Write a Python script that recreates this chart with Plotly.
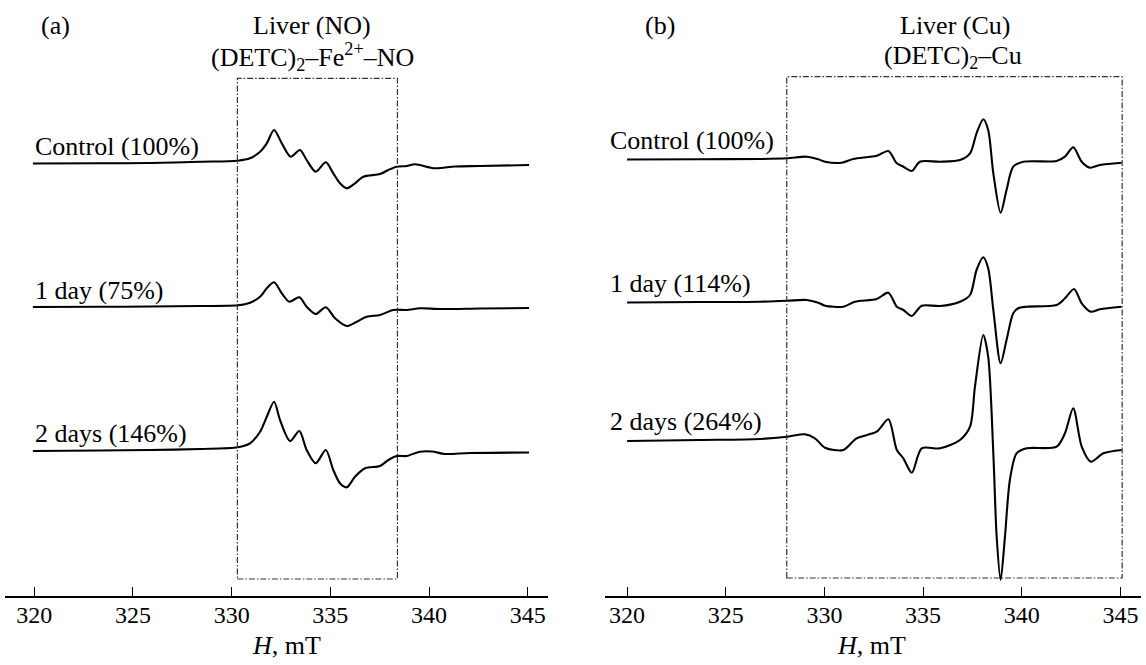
import plotly.graph_objects as go

# ---------------- data (field in mT, signal in arbitrary units) ----------------
# Panel (a): Liver (NO), (DETC)2-Fe2+-NO
field_a_control = [319.93, 323.33, 325.87, 328.41, 330.31, 330.93, 331.44, 331.78, 332.15, 332.54,
                   332.99, 333.46, 333.80, 334.26, 334.77, 335.15, 335.49, 335.83, 336.25, 336.67,
                   337.52, 337.94, 338.36, 338.87, 339.29, 340.30, 341.32, 342.58, 345.07]
sig_a_control = [0.0, 0.2, 0.5, 1.8, 2.8, 5.2, 11.8, 20.2, 33.5, 20.2,
                 6.8, 13.5, 3.5, -8.2, 1.2, -9.8, -19.8, -24.8, -19.8, -13.2,
                 -10.5, -6.5, -3.2, -2.5, -0.8, -4.8, -3.0, -2.5, -1.5]

field_a_1day = [319.93, 323.33, 325.87, 328.41, 330.31, 330.93, 331.44, 331.78, 332.15, 332.54,
                332.92, 333.43, 333.80, 334.26, 334.77, 335.24, 335.83, 336.34, 336.84, 337.52,
                338.19, 338.87, 339.54, 340.56, 342.58, 345.07]
sig_a_1day = [-0.5, -0.3, 0.0, 0.5, 1.2, 3.8, 9.8, 18.2, 24.2, 13.2,
              4.8, 9.2, -0.2, -7.5, -0.8, -11.8, -19.5, -15.2, -10.2, -8.5,
              -3.5, -3.5, -1.8, -2.5, -2.0, -1.5]

field_a_2days = [319.93, 323.33, 325.87, 328.41, 330.31, 330.93, 331.44, 331.78, 332.15, 332.45,
                 332.96, 333.43, 333.80, 334.26, 334.77, 335.15, 335.49, 335.83, 336.25, 336.76,
                 337.52, 337.94, 338.36, 338.87, 339.54, 340.15, 340.81, 342.07, 345.07]
sig_a_2days = [-1.0, -0.5, 0.0, 1.0, 2.7, 6.7, 18.3, 33.3, 48.3, 30.0,
               9.0, 19.0, 0.0, -13.3, 0.0, -20.0, -33.3, -37.3, -26.7, -18.3,
               -16.0, -10.0, -6.0, -6.0, -1.7, -1.5, -4.0, -3.0, -2.5]

# Panel (b): Liver (Cu), (DETC)2-Cu
field_b_control = [320.00, 323.69, 326.73, 328.12, 329.10, 329.69, 330.03, 330.87, 331.46, 332.65,
                   333.24, 333.67, 334.00, 334.43, 334.84, 335.86, 336.87, 337.38, 337.71, 338.05,
                   338.30, 338.56, 338.93, 339.23, 339.57, 340.08, 341.77, 342.19, 342.61, 343.04,
                   343.46, 343.96, 345.06]
sig_b_control = [-0.5, -0.2, 0.0, 0.7, 2.3, -0.3, -2.7, -3.7, 0.0, 3.3,
                 8.0, -4.3, -7.7, -12.0, -2.7, -2.7, -1.0, 5.7, 25.7, 39.7,
                 29.0, -14.3, -53.7, -31.0, -7.7, -2.7, -2.0, 2.3, 11.7, -2.7,
                 -8.7, -6.0, -3.7]

field_b_1day = [320.00, 323.69, 326.73, 328.12, 329.10, 329.69, 330.03, 330.96, 331.55, 332.65,
                333.24, 333.67, 334.00, 334.43, 334.93, 335.86, 336.87, 337.38, 337.71, 338.05,
                338.30, 338.56, 338.93, 339.23, 339.57, 339.82, 340.25, 341.77, 342.19, 342.65,
                343.04, 343.50, 343.96, 345.06]
sig_b_1day = [-1.0, -0.5, -0.2, 0.8, 1.5, -1.2, -4.2, -5.2, -0.2, 2.5,
              8.8, -5.2, -8.5, -14.5, -4.2, -4.5, -0.2, 6.5, 31.5, 44.2,
              33.2, -8.5, -61.8, -38.5, -11.8, -6.8, -5.2, -3.5, 3.2, 12.5,
              -1.8, -10.2, -7.8, -5.2]

field_b_2days = [320.00, 323.69, 326.73, 328.12, 329.01, 329.52, 330.03, 330.96, 331.63, 332.65,
                 333.24, 333.67, 334.00, 334.43, 334.93, 335.86, 336.87, 337.38, 337.63, 338.05,
                 338.30, 338.56, 338.73, 338.93, 339.15, 339.40, 339.74, 340.25, 341.77, 342.19,
                 342.61, 343.04, 343.50, 344.14, 345.06]
sig_b_2days = [-2.0, -1.0, 0.0, 2.3, 4.7, 0.7, -8.7, -11.0, 0.7, 7.3,
               19.7, -11.0, -19.3, -33.7, -9.3, -9.3, -1.0, 12.3, 52.3, 104.0,
               82.3, -14.3, -97.7, -141.0, -97.7, -41.0, -14.3, -9.3, -7.7, 5.7,
               30.7, -7.7, -22.7, -14.3, -11.0]

labels_a = ["Control (100%)", "1 day (75%)", "2 days (146%)"]
labels_b = ["Control (100%)", "1 day (114%)", "2 days (264%)"]
tick_vals = [320, 325, 330, 335, 340, 345]

# ---------------- layout constants ----------------
FONT = "Liberation Serif, Times New Roman, serif"
base_a = [432.5, 289.5, 146.0]
base_b = [437.0, 294.5, 157.0]
label_y_a = [449.3, 306.0, 163.0]
label_y_b = [456.0, 313.0, 175.0]

fig = go.Figure()
spectra_a = [(field_a_control, sig_a_control), (field_a_1day, sig_a_1day), (field_a_2days, sig_a_2days)]
spectra_b = [(field_b_control, sig_b_control), (field_b_1day, sig_b_1day), (field_b_2days, sig_b_2days)]

for (f, s), b in zip(spectra_a, base_a):
    fig.add_trace(go.Scatter(x=f, y=[b + v for v in s], mode="lines",
                             line=dict(color="black", width=2.1, shape="spline", smoothing=0.8),
                             xaxis="x", yaxis="y", showlegend=False, hoverinfo="skip"))
for (f, s), b in zip(spectra_b, base_b):
    fig.add_trace(go.Scatter(x=f, y=[b + v for v in s], mode="lines",
                             line=dict(color="black", width=2.1, shape="spline", smoothing=0.8),
                             xaxis="x2", yaxis="y2", showlegend=False, hoverinfo="skip"))

axis_common = dict(showline=True, linecolor="black", linewidth=1.5, ticks="inside", ticklen=9,
                   tickwidth=1.3, tickcolor="black", tickvals=tick_vals, showgrid=False,
                   zeroline=False, tickfont=dict(family=FONT, size=24, color="black"),
                   ticklabelstandoff=-4)
fig.update_layout(
    width=1146, height=665, autosize=False,
    margin=dict(l=0, r=0, t=0, b=69, pad=0),
    paper_bgcolor="white", plot_bgcolor="white",
    xaxis=dict(domain=[5 / 1146, 548.2 / 1146], range=[318.515, 346.04], anchor="y", **axis_common),
    xaxis2=dict(domain=[605.2 / 1146, 1141.3 / 1146], range=[318.89, 346.06], anchor="y2", **axis_common),
    yaxis=dict(domain=[0, 1], range=[0, 596], visible=False, anchor="x"),
    yaxis2=dict(domain=[0, 1], range=[0, 596], visible=False, anchor="x2"),
)

box_line = dict(color="#333333", width=1.2, dash="6px,2px,1.5px,2px")
fig.add_shape(type="rect", xref="x", yref="y", x0=330.29, x1=338.40, y0=17, y1=517.7, line=box_line)
fig.add_shape(type="rect", xref="x2", yref="y2", x0=328.09, x1=345.09, y0=18, y1=519.3, line=box_line)

def txt(x, y, text, xref, yref, anchor="center", size=26):
    fig.add_annotation(x=x, y=y, xref=xref, yref=yref, text=text, showarrow=False,
                       xanchor=anchor, yanchor="middle",
                       font=dict(family=FONT, size=size, color="black"))

for lab, ly in zip(labels_a, label_y_a):
    txt(319.95, ly, lab, "x", "y", anchor="left")
for lab, ly in zip(labels_b, label_y_b):
    txt(319.02, ly, lab, "x2", "y2", anchor="left")

txt(321.05, 571, "(a)", "x", "y")
txt(334.06, 571, "Liver (NO)", "x", "y")
txt(334.12, 539.3, "(DETC)<sub>2</sub>–Fe<sup>2+</sup>–NO", "x", "y")
txt(321.67, 571, "(b)", "x2", "y2")
txt(336.62, 571, "Liver (Cu)", "x2", "y2")
txt(336.51, 539.3, "(DETC)<sub>2</sub>–Cu", "x2", "y2")
txt(332.79, -49 / 596, "<i>H</i>, mT", "x", "paper")
txt(332.4, -49 / 596, "<i>H</i>, mT", "x2", "paper")

fig.write_html("out.html", config={"displayModeBar": False},
               post_script="document.body.style.margin='0';")
